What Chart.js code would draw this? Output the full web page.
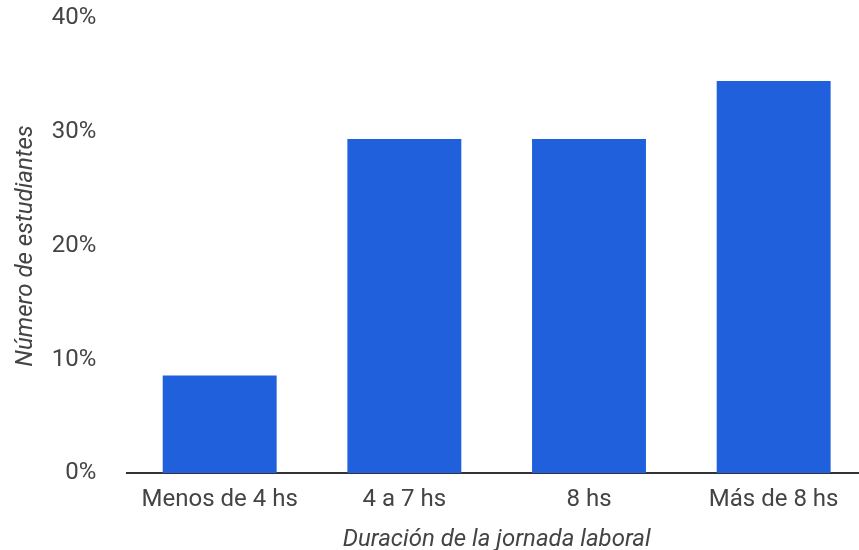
<!DOCTYPE html>
<html>
<head>
<meta charset="utf-8">
<script src="https://cdn.jsdelivr.net/npm/chart.js@4/dist/chart.umd.min.js"></script>
<style>
  html, body { margin: 0; padding: 0; overflow: hidden; background: #fff; }
  #wrap { width: 866px; height: 550px; }
</style>
</head>
<body>
<div id="wrap"><canvas id="myChart"></canvas></div>
<script>
  const categories = ['Menos de 4 hs', '4 a 7 hs', '8 hs', 'Más de 8 hs']
  const values = [8.6, 29.4, 29.4, 34.5]
  const yTicks = [0, 10, 20, 30, 40]

  const font = { family: 'Roboto', size: 24 }
  const titleFont = { family: 'Roboto', size: 24, style: 'italic' }
  const ctx = document.getElementById('myChart')
  // eslint-disable-next-line no-unused-vars
  const myChart = new Chart(ctx, {
    type: 'bar',
    data: {
      labels: categories,
      datasets: [{
        data: values,
        backgroundColor: '#2060dd',
        barPercentage: 0.617,
        categoryPercentage: 1
      }]
    },
    options: {
      responsive: true,
      maintainAspectRatio: false,
      animation: false,
      layout: { padding: { top: 0, right: 0, left: 12, bottom: 0 } },
      plugins: {
        legend: { display: false },
        tooltip: { enabled: false }
      },
      scales: {
        x: {
          grid: { display: false, drawTicks: false },
          border: { color: '#333', width: 2 },
          ticks: { color: '#444', font: font, padding: 12, maxRotation: 0 },
          title: {
            display: true,
            text: 'Duración de la jornada laboral',
            color: '#444',
            font: titleFont,
            padding: { top: -1, bottom: -4 }
          }
        },
        y: {
          min: 0,
          max: yTicks[yTicks.length - 1],
          afterBuildTicks: (axis) => { axis.ticks = yTicks.map(v => ({ value: v })) },
          // invisible tick marks keep the gap between labels and bars
          grid: { display: true, drawOnChartArea: false, drawTicks: true, tickLength: 27, tickColor: 'transparent' },
          border: { display: false },
          ticks: { color: '#444', font: font, padding: 4, callback: (v) => v + '%' },
          title: {
            display: true,
            text: 'Número de estudiantes',
            color: '#444',
            font: titleFont,
            padding: { top: 0, bottom: 7 }
          }
        }
      }
    }
  })
</script>
</body>
</html>
